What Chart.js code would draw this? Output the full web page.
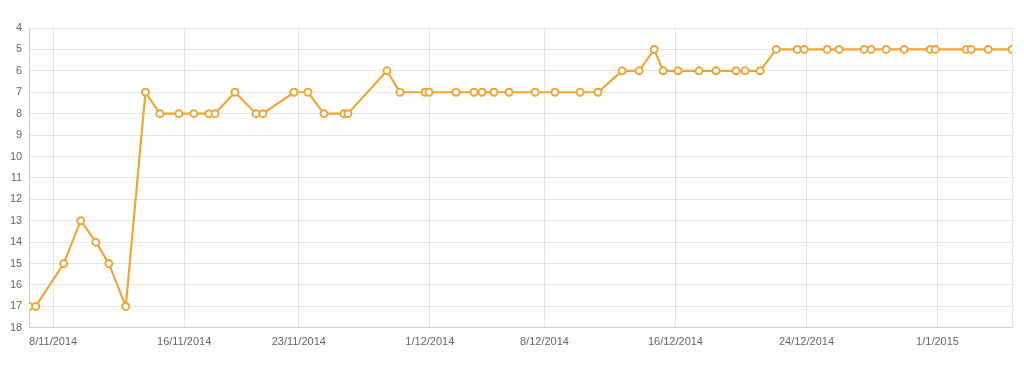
<!DOCTYPE html>
<html>
<head>
<meta charset="utf-8">
<script src="https://cdn.jsdelivr.net/npm/chart.js@4/dist/chart.umd.min.js"></script>
<style>
    html, body { margin: 0; padding: 0; background: #fff; }
    #wrap { width: 1024px; height: 374px; position: relative; }
</style>
</head>
<body>
<div id="wrap"><canvas id="chart"></canvas></div>
<script>
// position over time (lower is better, axis reversed)
const dates = [
    '2014-11-06T13:00', '2014-11-06T22:30', '2014-11-08T15:30', '2014-11-09T16:30',
    '2014-11-10T14:40', '2014-11-11T09:40', '2014-11-12T10:30', '2014-11-13T15:20',
    '2014-11-14T12:30', '2014-11-15T16:20', '2014-11-16T14:10', '2014-11-17T12:15',
    '2014-11-17T21:10', '2014-11-19T02:25', '2014-11-20T09:20', '2014-11-20T19:25',
    '2014-11-22T17:00', '2014-11-23T13:25', '2014-11-24T13:00', '2014-11-25T18:15',
    '2014-11-26T00:00', '2014-11-28T09:10', '2014-11-29T04:20', '2014-11-30T17:00',
    '2014-11-30T22:50', '2014-12-02T14:25', '2014-12-03T16:50', '2014-12-04T04:30',
    '2014-12-04T22:05', '2014-12-05T20:10', '2014-12-07T10:20', '2014-12-08T15:35',
    '2014-12-10T04:20', '2014-12-11T06:30', '2014-12-12T17:45', '2014-12-13T18:45',
    '2014-12-14T16:50', '2014-12-15T06:00', '2014-12-16T03:50', '2014-12-17T10:30',
    '2014-12-18T11:30', '2014-12-19T16:50', '2014-12-20T06:00', '2014-12-21T04:05',
    '2014-12-22T03:35', '2014-12-23T10:20', '2014-12-23T20:40', '2014-12-25T06:15',
    '2014-12-25T23:45', '2014-12-27T12:30', '2014-12-27T22:50', '2014-12-28T20:40',
    '2014-12-29T23:00', '2014-12-31T13:10', '2014-12-31T20:40', '2015-01-02T18:00',
    '2015-01-03T01:25', '2015-01-04T02:25', '2015-01-05T13:10'
];
const positions = [
    17, 17, 15, 13, 14, 15, 17, 7,
    8, 8, 8, 8, 8, 7, 8, 8,
    7, 7, 8, 8, 8, 6, 7, 7,
    7, 7, 7, 7, 7, 7, 7, 7,
    7, 7, 6, 6, 5, 6, 6, 6,
    6, 6, 6, 6, 5, 5, 5, 5,
    5, 5, 5, 5, 5, 5, 5, 5,
    5, 5, 5
];
const tickDates = ['2014-11-08', '2014-11-16', '2014-11-23', '2014-12-01', '2014-12-08', '2014-12-16', '2014-12-24', '2015-01-01'];
const tickLabels = ['8/11/2014', '16/11/2014', '23/11/2014', '1/12/2014', '8/12/2014', '16/12/2014', '24/12/2014', '1/1/2015'];

const toMs = s => new Date(s.length === 10 ? s + 'T00:00' : s).getTime();

let xs = dates.map(toMs);
let points = xs.map((x, i) => ({ x: x, y: positions[i] }));
let tickMs = tickDates.map(toMs);
let xMin = xs[0];
let xMax = xs[xs.length - 1];

let colour = '#eea63a';
let gridColour = 'rgba(0,0,0,0.1)';
let tickFont = { family: "'Liberation Sans', Arial, sans-serif", size: 11 };

new Chart(document.getElementById('chart'), {
    type: 'line',
    data: {
        datasets: [{
            data: points,
            borderColor: colour,
            backgroundColor: '#fff',
            borderWidth: 2.2,
            pointRadius: 3.5,
            pointBorderWidth: 2,
            pointBackgroundColor: '#fff',
            pointBorderColor: colour,
            tension: 0,
            fill: false
        }]
    },
    options: {
        responsive: true,
        maintainAspectRatio: false,
        animation: false,
        layout: { padding: { top: 28, right: 12, bottom: 17, left: 3 } },
        plugins: { legend: { display: false }, tooltip: { enabled: false } },
        scales: {
            x: {
                type: 'linear',
                min: xMin,
                max: xMax,
                afterBuildTicks: (scale) => {
                    // edge ticks only draw the frame, no label
                    scale.ticks = [xMin].concat(tickMs, [xMax]).map(v => ({ value: v }));
                },
                ticks: {
                    autoSkip: false,
                    maxRotation: 0,
                    padding: 8,
                    color: '#666',
                    font: tickFont,
                    callback: (v) => {
                        let i = tickMs.indexOf(v);
                        return i >= 0 ? tickLabels[i] : '';
                    }
                },
                grid: { color: gridColour, drawTicks: false },
                border: { color: gridColour }
            },
            y: {
                reverse: true,
                min: 4,
                max: 18,
                ticks: { stepSize: 1, padding: 7, color: '#666', font: tickFont },
                grid: { color: gridColour, drawTicks: false },
                border: { color: gridColour }
            }
        }
    }
});
</script>
</body>
</html>
